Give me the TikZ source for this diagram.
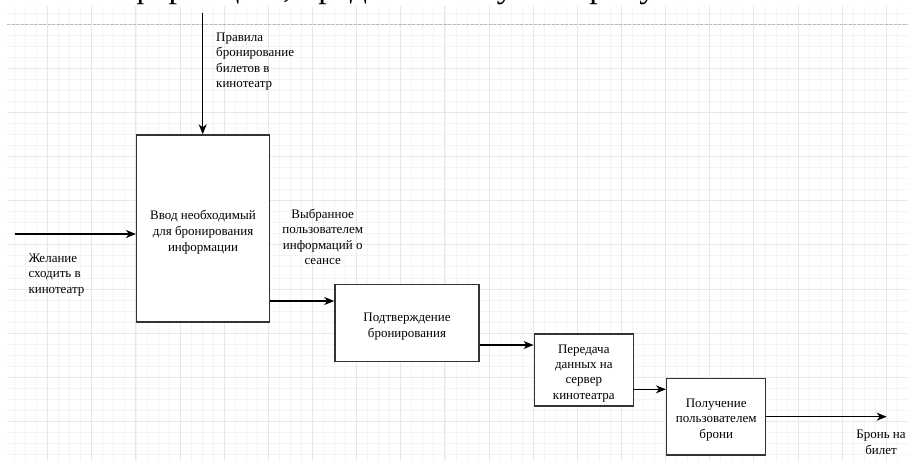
\documentclass[tikz,border=0pt]{standalone}
\usepackage{fontspec}
\setmainfont{Liberation Serif}
\usetikzlibrary{arrows.meta}
\definecolor{gminor}{HTML}{F4F4F4}
\definecolor{gmajor}{HTML}{E8E8E8}
\definecolor{boxline}{HTML}{333333}
\tikzset{
  proc/.style={draw=boxline, line width=1.5pt, fill=white, inner sep=0pt},
  ptext/.style={inner sep=0pt, align=center, font=\fontsize{13}{16}\selectfont},
  flow/.style={draw=black, line width=1.3pt, -{Stealth[length=10pt,width=8pt,inset=3pt]}},
  lbl/.style={font=\fontsize{13}{15.5}\selectfont, inner sep=0pt},
}
\begin{document}
\begin{tikzpicture}[x=1pt,y=-1pt]
\useasboundingbox (0,0) rectangle (908,461);
\fill[white] (0,0) rectangle (908,461);
% grid
\foreach \i in {1,...,81}{
  \pgfmathsetmacro\gx{3.56+11.035*\i}
  \draw[gminor, line width=0.9pt] (\gx,6) -- (\gx,461);
}
\foreach \j in {1,...,41}{
  \pgfmathsetmacro\gy{2.1+11.035*\j}
  \draw[gminor, line width=0.9pt] (7,\gy) -- (908,\gy);
}
\foreach \i in {4,8,...,80}{
  \pgfmathsetmacro\gx{3.56+11.035*\i}
  \draw[gmajor, line width=1pt] (\gx,6) -- (\gx,461);
}
\foreach \j in {2,6,...,38}{
  \pgfmathsetmacro\gy{2.1+11.035*\j}
  \draw[gmajor, line width=1pt] (7,\gy) -- (908,\gy);
}
\draw[gray!55, line width=1.2pt, dash pattern=on 3pt off 1.5pt] (7,24.2) -- (908,24.2);
% cut-off text line at the top
\begin{scope}
\clip (0,-20) rectangle (908,6);
\node[anchor=base, inner sep=0pt, font=\fontsize{34}{40}\selectfont] (toptext) at (140.5,-2.6)
  {\llap{ин}ф\rlap{ормацию, представленную на рисунке}};
\end{scope}
% boxes
\node[proc, minimum width=132.6pt, minimum height=187pt] (b1) at (203,228.5) {};
\node[proc, minimum width=144pt, minimum height=77.4pt] (b2) at (407,323) {};
\node[proc, minimum width=99pt, minimum height=71.7pt] (b3) at (583.8,369.9) {};
\node[proc, minimum width=99pt, minimum height=76.7pt] (b4) at (716.2,416.7) {};
\node[ptext] (t1) at ([yshift=-3.5pt]b1.center) {Ввод необходимый\\для бронирования\\информации};
\node[ptext] (t2) at ([yshift=-4pt]b2.center) {Подтверждение\\бронирования};
\node[ptext, font=\fontsize{13}{15.4}\selectfont] (t3) at ([yshift=-3.5pt]b3.center)
  {Передача\\данных на\\сервер\\кинотеатра};
\node[ptext, font=\fontsize{13}{15.5}\selectfont] (t4) at ([yshift=-3pt]b4.center)
  {Получение\\пользователем\\брони};
% connectors
\coordinate (tin) at (202.7,12.5);
\coordinate (lin) at (15,234);
\coordinate (y12) at (0,301);
\coordinate (y23) at (0,345);
\coordinate (y34) at (0,389.3);
\coordinate (out) at (886.7,416.7);
\draw[flow] (tin) -- (tin |- b1.north);
\draw[flow] (lin) -- (b1.west |- lin);
\draw[flow] (b1.east |- y12) -- (b2.west |- y12);
\draw[flow] (b2.east |- y23) -- (b3.west |- y23);
\draw[flow] (b3.east |- y34) -- (b4.west |- y34);
\draw[flow] (b4.east) -- (out);
% labels
\node[lbl, anchor=west, align=left] (lrules) at (216,61.7)
  {Правила\\бронирование\\билетов в\\кинотеатр};
\node[lbl, anchor=west, align=left] (lwish) at (28.3,274.7)
  {Желание\\сходить в\\кинотеатр};
\node[lbl, align=center] (lsel) at (322.7,237)
  {Выбранное\\пользователем\\информаций о\\сеансе};
\node[lbl, align=center] (lres) at (881,442.2)
  {Бронь на\\билет};
\end{tikzpicture}
\end{document}
